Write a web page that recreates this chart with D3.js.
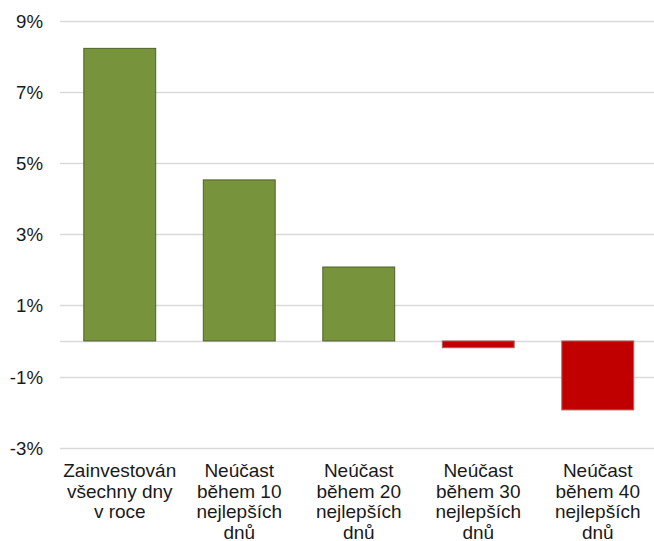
<!DOCTYPE html>
<html>
<head>
<meta charset="utf-8">
<script src="https://cdn.jsdelivr.net/npm/d3@7"></script>
<style>
html,body{margin:0;padding:0;background:#fff;}
svg{display:block;}
</style>
</head>
<body>
<script>
const categories = [
  "Zainvestován|všechny dny|v roce",
  "Neúčast|během 10|nejlepších|dnů",
  "Neúčast|během 20|nejlepších|dnů",
  "Neúčast|během 30|nejlepších|dnů",
  "Neúčast|během 40|nejlepších|dnů"
];
const values = [8.23, 4.53, 2.08, -0.19, -1.94];
const yTicks = [-3, -1, 1, 3, 5, 7, 9];

const W = 654, H = 541;
const svg = d3.select("body").append("svg").attr("width", W).attr("height", H);

const x = d3.scaleBand().domain(categories).range([60, 657.5])
  .paddingInner(0.39).paddingOuter(0.195);
const y = d3.scaleLinear().domain([-3, 9]).range([447.6, 21]);

const font = "Liberation Sans, Arial, sans-serif";

// gridlines
svg.append("g").selectAll("line").data(yTicks.concat([0])).join("line")
  .attr("x1", 60).attr("x2", W)
  .attr("y1", d => Math.round(y(d)) + 0.5).attr("y2", d => Math.round(y(d)) + 0.5)
  .attr("stroke", "#d9d9d9").attr("stroke-width", 1.5);

// y axis labels
const yAxis = d3.axisLeft(y).tickValues(yTicks).tickSize(0).tickPadding(0)
  .tickFormat(d => d + "%");
const ga = svg.append("g").attr("transform", "translate(43,0)").call(yAxis);
ga.select(".domain").remove();
ga.selectAll("text").attr("font-family", font).attr("font-size", "18.67px")
  .attr("fill", "#1a1a1a").attr("dy", "0.35em");

// bars
svg.append("g").selectAll("rect").data(values).join("rect")
  .attr("x", (d, i) => x(categories[i]) + 0.5)
  .attr("width", x.bandwidth() - 1)
  .attr("y", d => y(Math.max(0, d)))
  .attr("height", d => Math.abs(y(d) - y(0)))
  .attr("fill", d => d >= 0 ? "#77933c" : "#c00000")
  .attr("stroke", d => d >= 0 ? "#4f6228" : "#a86262")
  .attr("stroke-width", 1);

// category labels
const xl = svg.append("g");
categories.forEach((c, i) => {
  const t = xl.append("text")
    .attr("x", x(c) + x.bandwidth() / 2)
    .attr("y", 477)
    .attr("text-anchor", "middle")
    .attr("font-family", font).attr("font-size", "19px").attr("fill", "#1a1a1a");
  c.split("|").forEach((line, j) => {
    t.append("tspan").attr("x", x(c) + x.bandwidth() / 2)
      .attr("y", 477 + j * 20.5).text(line);
  });
});
</script>
</body>
</html>
